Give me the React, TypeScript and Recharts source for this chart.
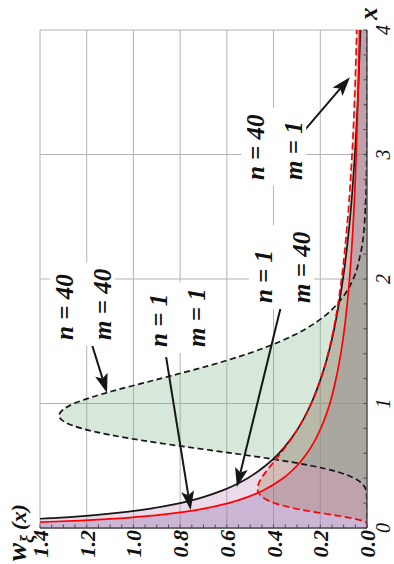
import React, { useLayoutEffect, useRef, useState } from 'react';
import {
  ComposedChart,
  Area,
  Line,
  XAxis,
  YAxis,
  CartesianGrid,
  ReferenceLine,
  ReferenceDot,
  Label,
} from 'recharts';

// Density curves w_xi(x) for the four (n, m) pairs
const xN1M1 = [0.005, 0.01, 0.02, 0.03, 0.04, 0.05, 0.06, 0.08, 0.1, 0.125, 0.15, 0.2, 0.25, 0.3, 0.4, 0.5, 0.6, 0.7, 0.8, 1.0, 1.25, 1.5, 1.75, 2.0, 2.5, 3.0, 3.5, 4.0];
const wN1M1 = [4.5, 3.15, 2.23, 1.78, 1.53, 1.36, 1.23, 1.04, 0.915, 0.8, 0.715, 0.593, 0.509, 0.447, 0.359, 0.3, 0.257, 0.224, 0.198, 0.159, 0.127, 0.104, 0.0875, 0.075, 0.0575, 0.046, 0.038, 0.032];

const xN1M40 = [0.005, 0.01, 0.02, 0.04, 0.06, 0.08, 0.1, 0.125, 0.15, 0.2, 0.25, 0.3, 0.4, 0.5, 0.6, 0.7, 0.8, 1.0, 1.25, 1.5, 1.75, 2.0, 2.5, 3.0, 3.5, 4.0];
const wN1M40 = [5.6, 3.94, 2.78, 1.94, 1.57, 1.345, 1.19, 1.05, 0.948, 0.8, 0.698, 0.621, 0.511, 0.435, 0.377, 0.332, 0.295, 0.239, 0.189, 0.152, 0.125, 0.103, 0.072, 0.052, 0.038, 0.028];

const xN40M1 = [0, 0.02, 0.04, 0.06, 0.08, 0.1, 0.125, 0.15, 0.2, 0.25, 0.3, 0.35, 0.4, 0.5, 0.6, 0.7, 0.8, 1.0, 1.25, 1.5, 1.75, 2.0, 2.5, 3.0, 3.5, 4.0];
const wN40M1 = [0, 0, 0.002, 0.021, 0.067, 0.129, 0.214, 0.29, 0.396, 0.449, 0.468, 0.465, 0.452, 0.412, 0.369, 0.33, 0.295, 0.239, 0.189, 0.154, 0.128, 0.109, 0.082, 0.064, 0.052, 0.044];

const xN40M40 = [0, 0.2, 0.3, 0.35, 0.4, 0.45, 0.5, 0.55, 0.6, 0.65, 0.7, 0.75, 0.8, 0.85, 0.9, 0.95, 1.0, 1.05, 1.1, 1.2, 1.3, 1.4, 1.5, 1.6, 1.7, 1.8, 1.9, 2.0, 2.2, 2.5, 3.0, 3.5, 4.0];
const wN40M40 = [0, 0, 0.004, 0.018, 0.054, 0.125, 0.238, 0.392, 0.575, 0.768, 0.951, 1.106, 1.222, 1.293, 1.318, 1.302, 1.254, 1.18, 1.089, 0.885, 0.684, 0.51, 0.369, 0.262, 0.183, 0.127, 0.087, 0.059, 0.028, 0.009, 0.001, 0, 0];

// Axis ticks and labels
const xMajor = [0, 1, 2, 3, 4];
const xLabels = ['0', '1', '2', '3', '4'];
const yMajor = [0, 0.2, 0.4, 0.6, 0.8, 1.0, 1.2, 1.4];
const yLabels = ['0.0', '0.2', '0.4', '0.6', '0.8', '1.0', '1.2', '1.4'];
const xMinor = Array.from({ length: 21 }, (_, i) => i / 5);
const yMinor = Array.from({ length: 29 }, (_, i) => i / 20);

// Curve labels and the arrows pointing from them to their curves
const notes = [
  { x: 1.51, w: 1.259, lines: ['n = 40', 'm = 40'] },
  { x: 1.454, w: 0.856, lines: ['n = 1', 'm = 1'] },
  { x: 1.807, w: 0.407, lines: ['n = 1', 'm = 40'] },
  { x: 2.795, w: 0.44, lines: ['n = 40', 'm = 1'] },
];
const arrows = [
  { from: [1.524, 1.186], to: [1.085, 1.113] },
  { from: [1.373, 0.86], to: [0.145, 0.755] },
  { from: [1.783, 0.368], to: [0.329, 0.557] },
  { from: [3.18, 0.274], to: [3.62, 0.073] },
];

const toRows = (xs: number[], ws: number[]) => xs.map((x, i) => ({ x, w: ws[i] }));
const dataN1M1 = toRows(xN1M1, wN1M1);
const dataN1M40 = toRows(xN1M40, wN1M40);
const dataN40M1 = toRows(xN40M1, wN40M1);
const dataN40M40 = toRows(xN40M40, wN40M40);

const SERIF = '"Liberation Serif", "Times New Roman", serif';
const AXIS = '#4a4a4a';
const GRID = '#b4b4b4';
const RED = '#ff0000';
const BLACK = '#161616';

const XTick = (props: any) => {
  const { x, y, payload } = props;
  const idx = xMajor.findIndex((m) => Math.abs(m - payload.value) < 1e-6);
  return (
    <g>
      <line x1={x} x2={x} y1={y} y2={y - 3.5} stroke={AXIS} strokeWidth={1} />
      {idx >= 0 && (
        <text x={x} y={y + 23} textAnchor="middle" fontFamily={SERIF} fontStyle="italic" fontSize={20} fill="#111">
          {xLabels[idx]}
        </text>
      )}
    </g>
  );
};

const YTick = (props: any) => {
  const { x, y, payload } = props;
  const idx = yMajor.findIndex((m) => Math.abs(m - payload.value) < 1e-6);
  return (
    <g>
      <line x1={x} x2={x + 3.5} y1={y} y2={y} stroke={AXIS} strokeWidth={1} />
      {idx >= 0 && (
        <text x={x - 2} y={y + 8} textAnchor="end" fontFamily={SERIF} fontStyle="italic" fontWeight="bold" fontSize={22} fill="#111">
          {yLabels[idx]}
        </text>
      )}
    </g>
  );
};

const XName = (props: any) => {
  const vb = props.viewBox;
  return (
    <text x={vb.x + vb.width + 10} y={vb.y + 10} fontFamily={SERIF} fontStyle="italic" fontWeight="bold" fontSize={25} fill="#111">
      x
    </text>
  );
};

const WName = (props: any) => {
  const vb = props.viewBox;
  return (
    <text x={vb.x + 3} y={vb.y - 14} fontFamily={SERIF} fontStyle="italic" fontWeight="bold" fontSize={27} fill="#111">
      w
      <tspan fontSize={18} dy={7}>ξ</tspan>
      <tspan fontSize={22} dx={5} dy={-7}>(x)</tspan>
    </text>
  );
};

function NoteLabel({ cx, cy, lines }: { cx: number; cy: number; lines: string[] }) {
  const ref = useRef<SVGTextElement>(null);
  const [box, setBox] = useState<{ x: number; y: number; width: number; height: number } | null>(null);
  useLayoutEffect(() => {
    if (ref.current) {
      const b = ref.current.getBBox();
      setBox({ x: b.x, y: b.y, width: b.width, height: b.height });
    }
  }, [cx, cy]);
  return (
    <g>
      {box && <rect x={box.x - 6} y={box.y - 1} width={box.width + 12} height={box.height} fill="#fff" />}
      <text ref={ref} fontFamily={SERIF} fontStyle="italic" fontWeight="bold" fontSize={25} fill="#111">
        {lines.map((t, i) => (
          <tspan key={i} x={cx} y={cy + i * 38}>
            {t}
          </tspan>
        ))}
      </text>
    </g>
  );
}

const ArrowShape = (p: any) => {
  const { x1, y1, x2, y2 } = p;
  const dx = x2 - x1;
  const dy = y2 - y1;
  const len = Math.hypot(dx, dy) || 1;
  const ux = dx / len;
  const uy = dy / len;
  const head = 19;
  const half = 6.5;
  const bx = x2 - ux * head;
  const by = y2 - uy * head;
  const nx = x2 - ux * (head - 4);
  const ny = y2 - uy * (head - 4);
  return (
    <g>
      <line x1={x1} y1={y1} x2={nx} y2={ny} stroke={BLACK} strokeWidth={2} />
      <polygon
        points={`${x2},${y2} ${bx - uy * half},${by + ux * half} ${nx},${ny} ${bx + uy * half},${by - ux * half}`}
        fill={BLACK}
      />
    </g>
  );
};

export default function App() {
  return (
    <div style={{ position: 'absolute', left: 0, top: 0, width: 394, height: 564, overflow: 'hidden', background: '#fff' }}>
      <div style={{ width: 564, height: 394, transformOrigin: '0 0', transform: 'translate(0px, 564px) rotate(-90deg)' }}>
        <ComposedChart width={564} height={394} margin={{ top: 40, right: 30, bottom: 0, left: 0 }}>
          <CartesianGrid stroke={GRID} strokeWidth={1} verticalValues={xMajor} horizontalValues={yMajor} />
          <XAxis
            type="number"
            dataKey="x"
            domain={[0, 4]}
            ticks={xMinor}
            interval={0}
            tickSize={0}
            tickMargin={0}
            tickLine={false}
            tick={XTick}
            axisLine={{ stroke: AXIS, strokeWidth: 1.3 }}
            height={27}
            allowDataOverflow
          >
            <Label content={XName} />
          </XAxis>
          <YAxis
            type="number"
            dataKey="w"
            domain={[0, 1.4]}
            ticks={yMinor}
            interval={0}
            tickSize={0}
            tickMargin={0}
            tickLine={false}
            tick={YTick}
            axisLine={{ stroke: AXIS, strokeWidth: 1.3 }}
            width={36}
            allowDataOverflow
          >
            <Label content={WName} />
          </YAxis>

          <Area data={dataN1M1} dataKey="w" type="monotone" fill="#8773b6" fillOpacity={0.35} stroke="none" dot={false} activeDot={false} isAnimationActive={false} />
          <Area data={dataN1M40} dataKey="w" type="monotone" fill="#b87aa8" fillOpacity={0.28} stroke="none" dot={false} activeDot={false} isAnimationActive={false} />
          <Area data={dataN40M1} dataKey="w" type="monotone" fill="#a07850" fillOpacity={0.3} stroke="none" dot={false} activeDot={false} isAnimationActive={false} />
          <Area data={dataN40M40} dataKey="w" type="monotone" fill="#7ab284" fillOpacity={0.3} stroke="none" dot={false} activeDot={false} isAnimationActive={false} />

          <Line data={dataN40M40} dataKey="w" type="monotone" stroke={BLACK} strokeWidth={1.7} strokeDasharray="6 3.5" dot={false} activeDot={false} isAnimationActive={false} />
          <Line data={dataN1M40} dataKey="w" type="monotone" stroke={BLACK} strokeWidth={1.7} dot={false} activeDot={false} isAnimationActive={false} />
          <Line data={dataN40M1} dataKey="w" type="monotone" stroke={RED} strokeWidth={1.7} strokeDasharray="7 3.5" dot={false} activeDot={false} isAnimationActive={false} />
          <Line data={dataN1M1} dataKey="w" type="monotone" stroke={RED} strokeWidth={1.7} dot={false} activeDot={false} isAnimationActive={false} />

          {notes.map((n, i) => (
            <ReferenceDot
              key={`note-${i}`}
              x={n.x}
              y={n.w}
              r={0}
              ifOverflow="visible"
              shape={(p: any) => <NoteLabel cx={p.cx} cy={p.cy} lines={n.lines} />}
            />
          ))}
          {arrows.map((a, i) => (
            <ReferenceLine
              key={`arrow-${i}`}
              segment={[
                { x: a.from[0], y: a.from[1] },
                { x: a.to[0], y: a.to[1] },
              ]}
              ifOverflow="visible"
              shape={ArrowShape}
            />
          ))}
        </ComposedChart>
      </div>
    </div>
  );
}
